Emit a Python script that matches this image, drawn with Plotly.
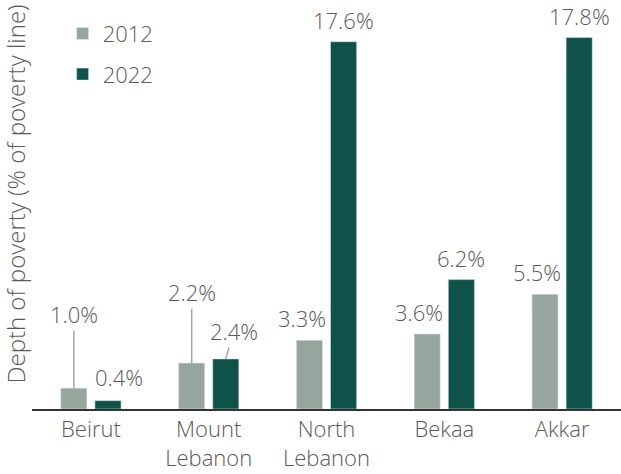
import plotly.graph_objects as go

regions = ["Beirut", "Mount<br>Lebanon", "North<br>Lebanon", "Bekaa", "Akkar"]
years = ["2012", "2022"]
depth_2012 = [1.0, 2.2, 3.3, 3.6, 5.5]
depth_2022 = [0.4, 2.4, 17.6, 6.2, 17.8]
y_title = "Depth of poverty (% of poverty line)"

GRAY = "#97a59f"
TEAL = "#0f524a"
TXT = "#595959"
FONT = "Open Sans"
fnt = dict(family=FONT, size=22, color=TXT, weight=300)
fnt_title = dict(family=FONT, size=24, color=TXT, weight=300)

fig = go.Figure()
fig.add_trace(go.Bar(x=regions, y=depth_2012, name=years[0], marker_color=GRAY,
                     legendgroup="a", hoverinfo="skip"))
fig.add_trace(go.Bar(x=regions, y=depth_2022, name=years[1], marker_color=TEAL,
                     legendgroup="b", hoverinfo="skip"))

# label placement (pixel offsets, style only)
bar_off = {0: -17, 1: 17}
label_style = {
    (0, 0): dict(arrow=True, ax=0, ay=-74),
    (1, 0): dict(arrow=False, dx=11, dy=24),
    (0, 1): dict(arrow=True, ax=0, ay=-71),
    (1, 1): dict(arrow=True, ax=8, ay=-28),
}
series = [depth_2012, depth_2022]
for s, vals in enumerate(series):
    for i, v in enumerate(vals):
        st = label_style.get((s, i))
        common = dict(x=regions[i], y=v, xref="x", yref="y", text=f"{v:.1f}%", font=fnt)
        if st and st["arrow"]:
            fig.add_annotation(**common, showarrow=True, arrowhead=0, arrowwidth=1.5,
                               arrowcolor="#a6a6a6", ax=st["ax"], ay=st["ay"],
                               xshift=bar_off[s], standoff=0, startstandoff=0)
        else:
            dx = st["dx"] if st else (-8 if s == 0 else 0)
            dy = st["dy"] if st else 22
            fig.add_annotation(**common, showarrow=False, xshift=bar_off[s] + dx,
                               yshift=dy, yanchor="middle")

# y-axis title as rotated text
fig.add_annotation(text=y_title, textangle=-90, x=0, y=0.5, xref="paper", yref="paper",
                   xanchor="center", yanchor="middle", xshift=-17, yshift=10,
                   showarrow=False, font=fnt_title)

fig.update_layout(
    width=621, height=474,
    margin=dict(l=32, r=0, t=0, b=65),
    paper_bgcolor="white", plot_bgcolor="white",
    barmode="group", bargap=0.42, bargroupgap=0.235,
    font=fnt,
    showlegend=True,
    legend=dict(x=0.052, y=0.969, xanchor="left", yanchor="top",
                traceorder="grouped", tracegroupgap=9,
                font=fnt, bgcolor="rgba(0,0,0,0)", itemclick=False),
)
fig.update_xaxes(showline=True, linecolor="#333333", linewidth=2, ticks="",
                 showgrid=False, tickfont=fnt)
fig.update_yaxes(range=[0, 19.6], showgrid=False, showticklabels=False, zeroline=False,
                 showline=False)

fig.write_html("out.html", config={"displayModeBar": False, "staticPlot": True},
               post_script="document.body.style.margin='0';document.body.style.overflow='hidden';")
